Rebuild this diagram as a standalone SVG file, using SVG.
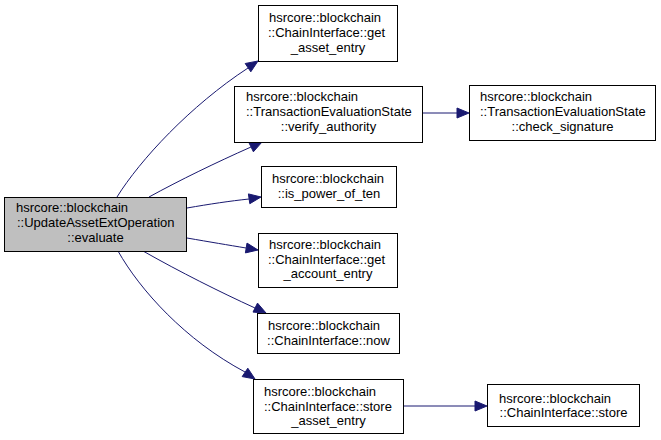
<svg xmlns="http://www.w3.org/2000/svg" width="661" height="440" viewBox="0 0 661 440">
<style>
.n rect{fill:#fff;stroke:#000;stroke-width:1}
.n.h rect{fill:#bfbfbf}
text{font-family:"Liberation Sans",Arial,sans-serif;font-size:13px;fill:#000}
.m{text-anchor:middle}
.e path{fill:none;stroke:#191970;stroke-width:1}
.e polygon{fill:#191970;stroke:#191970;stroke-width:1}
</style>
<rect width="661" height="440" fill="#fff"/>
<g class="e" id="edges">
<path d="M117,197 C140,160 190,106 248,68"/>
<polygon points="258,61 250.8,71.8 245.2,63.5"/>
<path d="M149,197 C180,180 215,163 251,147"/>
<polygon points="262,142 253.4,151.8 249,142.8"/>
<path d="M187,208 C210,204 230,201 249,199"/>
<polygon points="261,197 249.8,203.7 248.4,193.9"/>
<path d="M187,238 C210,242 228,245 246,248"/>
<polygon points="258,250 245.4,252.9 247,243.1"/>
<path d="M143,251 C180,272 220,292 255,308"/>
<polygon points="266,313 253,312.1 257.5,303.1"/>
<path d="M118,251 C140,290 185,340 245,372"/>
<polygon points="255,379 242.2,376.6 247.8,368.2"/>
<path d="M422,113 L457,113"/>
<polygon points="469,113 457,108 457,118"/>
<path d="M403,406 L475,406"/>
<polygon points="487,406 475,401 475,411"/>
</g>
<g class="n h" id="node-evaluate">
<rect x="4.5" y="197.5" width="182" height="54"/>
<text x="16" y="212">hsrcore::blockchain</text>
<text x="17" y="227">::UpdateAssetExtOperation</text>
<text class="m" x="95.5" y="242">::evaluate</text>
</g>
<g class="n" id="node-get-asset-entry">
<rect x="258.5" y="5.5" width="139" height="56"/>
<text x="269" y="21.5">hsrcore::blockchain</text>
<text x="268" y="36.5">::ChainInterface::get</text>
<text class="m" x="328" y="51.5">_asset_entry</text>
</g>
<g class="n" id="node-verify-authority">
<rect x="234.5" y="86.5" width="188" height="56"/>
<text x="246" y="101">hsrcore::blockchain</text>
<text x="246" y="116">::TransactionEvaluationState</text>
<text class="m" x="328.5" y="131">::verify_authority</text>
</g>
<g class="n" id="node-check-signature">
<rect x="469.5" y="85.5" width="186" height="55"/>
<text x="480" y="100.5">hsrcore::blockchain</text>
<text x="480" y="115.5">::TransactionEvaluationState</text>
<text class="m" x="562.5" y="130.5">::check_signature</text>
</g>
<g class="n" id="node-is-power-of-ten">
<rect x="261.5" y="166.5" width="135" height="41"/>
<text x="272" y="183">hsrcore::blockchain</text>
<text class="m" x="329" y="197.5">::is_power_of_ten</text>
</g>
<g class="n" id="node-get-account-entry">
<rect x="258.5" y="233.5" width="139" height="54"/>
<text x="269" y="249">hsrcore::blockchain</text>
<text x="268" y="263.5">::ChainInterface::get</text>
<text class="m" x="328" y="278">_account_entry</text>
</g>
<g class="n" id="node-now">
<rect x="257.5" y="313.5" width="142" height="40"/>
<text x="268" y="330">hsrcore::blockchain</text>
<text class="m" x="328.5" y="344.5">::ChainInterface::now</text>
</g>
<g class="n" id="node-store-asset-entry">
<rect x="253.5" y="379.5" width="150" height="54"/>
<text x="264" y="396">hsrcore::blockchain</text>
<text x="264" y="410.5">::ChainInterface::store</text>
<text class="m" x="328.5" y="425">_asset_entry</text>
</g>
<g class="n" id="node-store">
<rect x="487.5" y="384.5" width="152" height="42"/>
<text x="499" y="402.5">hsrcore::blockchain</text>
<text class="m" x="563.5" y="417">::ChainInterface::store</text>
</g>
</svg>
